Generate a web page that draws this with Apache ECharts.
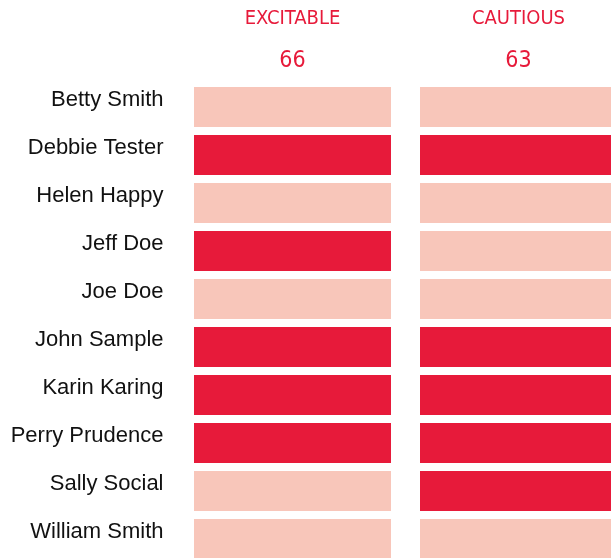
<!DOCTYPE html>
<html>
<head>
<meta charset="utf-8">
<script src="https://cdn.jsdelivr.net/npm/echarts@6/dist/echarts.min.js"></script>
<style>
  html, body { margin: 0; padding: 0; background: #fff; }
  #chart { width: 611px; height: 558px; }
</style>
</head>
<body>
<div id="chart"></div>
<script>
// people listed top to bottom
const names = ['Betty Smith', 'Debbie Tester', 'Helen Happy', 'Jeff Doe', 'Joe Doe',
  'John Sample', 'Karin Karing', 'Perry Prudence', 'Sally Social', 'William Smith']
const traits = ['EXCITABLE', 'CAUTIOUS']
const traitScores = [66, 63]
// 1 = high (red), 0 = low (pink)
const excitable = [0, 1, 0, 1, 0, 1, 1, 1, 0, 0]
const cautious = [0, 1, 0, 0, 0, 1, 1, 1, 1, 0]

const levelColors = ['#f8c6ba', '#e71a3a']
const red = '#e71a3a'
const condensed = '"DejaVu Sans Condensed", "Liberation Sans Narrow", sans-serif'

const cells = []
names.forEach((n, i) => {
  cells.push([0, i, excitable[i]])
  cells.push([1, i, cautious[i]])
})

const chart = echarts.init(document.getElementById('chart'))
chart.setOption({
  animation: false,
  grid: { left: 179.5, top: 83, width: 452, height: 480, outerBoundsMode: 'none', containLabel: false },
  xAxis: {
    type: 'category',
    position: 'top',
    data: traits,
    axisLine: { show: false },
    axisTick: { show: false },
    splitLine: { show: false },
    axisLabel: {
      margin: 0,
      interval: 0,
      formatter: (v, i) => '{a|' + v + '}\n{b|' + traitScores[i] + '}',
      rich: {
        a: { fontFamily: condensed, fontSize: 20, color: red, lineHeight: 43 },
        b: { fontFamily: condensed, fontSize: 23, color: red, lineHeight: 43 }
      }
    }
  },
  yAxis: {
    type: 'category',
    inverse: true,
    data: names,
    axisLine: { show: false },
    axisTick: { show: false },
    splitLine: { show: false },
    axisLabel: {
      margin: 16,
      interval: 0,
      fontFamily: 'Liberation Sans',
      fontSize: 22,
      color: '#111',
      verticalAlign: 'bottom',
      lineHeight: 15
    }
  },
  series: [{
    type: 'custom',
    data: cells,
    renderItem: (params, api) => {
      const p = api.coord([api.value(0), api.value(1)])
      const size = api.size([1, 1])
      const w = size[0] * 197 / 226
      const h = size[1] * 40 / 48
      return {
        type: 'rect',
        shape: { x: p[0] - w / 2, y: p[1] - h / 2, width: w, height: h },
        style: { fill: levelColors[api.value(2)] }
      }
    }
  }]
})
</script>
</body>
</html>
